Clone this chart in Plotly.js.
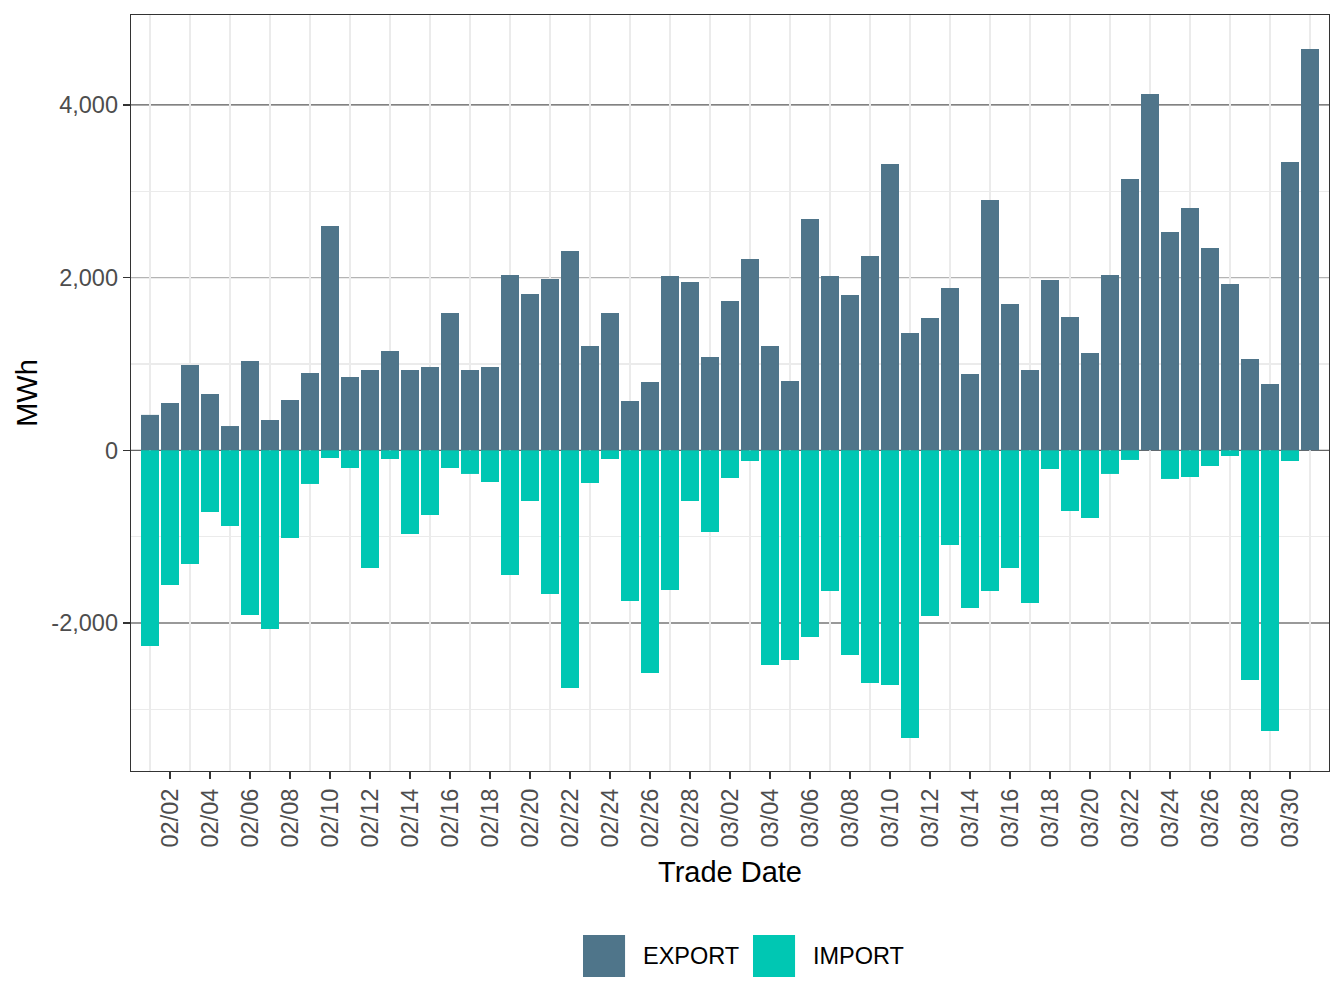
<!DOCTYPE html>
<html>
<head>
<meta charset="utf-8">
<script src="https://cdn.plot.ly/plotly-3.0.1.min.js"></script>
<style>
  html, body { margin: 0; padding: 0; background: #ffffff; }
  #chart { width: 1344px; height: 1008px; }
</style>
</head>
<body>
<div id="chart"></div>
<script>
// ---- data ----
const tradeDates = [
  '2023-02-01','2023-02-02','2023-02-03','2023-02-04','2023-02-05','2023-02-06','2023-02-07',
  '2023-02-08','2023-02-09','2023-02-10','2023-02-11','2023-02-12','2023-02-13','2023-02-14',
  '2023-02-15','2023-02-16','2023-02-17','2023-02-18','2023-02-19','2023-02-20','2023-02-21',
  '2023-02-22','2023-02-23','2023-02-24','2023-02-25','2023-02-26','2023-02-27','2023-02-28',
  '2023-03-01','2023-03-02','2023-03-03','2023-03-04','2023-03-05','2023-03-06','2023-03-07',
  '2023-03-08','2023-03-09','2023-03-10','2023-03-11','2023-03-12','2023-03-13','2023-03-14',
  '2023-03-15','2023-03-16','2023-03-17','2023-03-18','2023-03-19','2023-03-20','2023-03-21',
  '2023-03-22','2023-03-23','2023-03-24','2023-03-25','2023-03-26','2023-03-27','2023-03-28',
  '2023-03-29','2023-03-30','2023-03-31'
];

const exportMWh = [
  410, 548, 988, 652, 281, 1034, 351, 583, 895, 2598, 849, 930, 1150, 930,
  965, 1590, 930, 965, 2030, 1810, 1984, 2308, 1208, 1590, 571, 791, 2019, 1949,
  1080, 1729, 2215, 1208, 803, 2679, 2019, 1798, 2250, 3316, 1358, 1532, 1880, 884,
  2899, 1694, 930, 1972, 1544, 1127, 2030, 3142, 4126, 2528, 2806, 2343, 1926, 1057,
  768, 3339, 4647
];

const importMWh = [
  -2266, -1560, -1317, -715, -877, -1907, -2069, -1016, -390, -89, -205, -1363, -101, -969,
  -749, -205, -274, -367, -1444, -587, -1664, -2753, -379, -101, -1745, -2579, -1618, -587,
  -946, -321, -124, -2486, -2429, -2162, -1629, -2371, -2695, -2718, -3332, -1919, -1097, -1826,
  -1629, -1363, -1768, -217, -703, -784, -274, -112, 0, -332, -309, -182, -66, -2660,
  -3251, -124, 0
];

const seriesNames = ['EXPORT', 'IMPORT'];
const yTickVals = [-2000, 0, 2000, 4000];
const yTickText = ['-2,000', '0', '2,000', '4,000'];
const yMinorVals = [-3000, -1000, 1000, 3000];

// ---- styles ----
const colors = ['#4f758a', '#00c7b3'];
const refLineColors = ['#777777', '#666666', '#b4b4b4', '#595959'];
const FONT = 'Liberation Sans, Arial, Helvetica, sans-serif';
const DAY = 86400000;

const traces = [
  { type: 'bar', name: seriesNames[0], x: tradeDates, y: exportMWh,
    marker: { color: colors[0], line: { width: 0 } }, showlegend: false },
  { type: 'bar', name: seriesNames[1], x: tradeDates, y: importMWh,
    marker: { color: colors[1], line: { width: 0 } }, showlegend: false }
];

const shapes = yTickVals.map((v, i) => ({
  type: 'line', xref: 'paper', x0: 0, x1: 1, yref: 'y', y0: v, y1: v,
  layer: 'between', line: { color: refLineColors[i], width: 1.3 }
}));

// custom legend (keys + labels) at the bottom
const legendKeyX = [[0.3773, 0.4124], [0.5192, 0.5543]];
const legendTextX = [0.4257, 0.5676];
seriesNames.forEach((n, i) => {
  shapes.push({
    type: 'rect', xref: 'paper', yref: 'paper',
    x0: legendKeyX[i][0], x1: legendKeyX[i][1], y0: -0.2169, y1: -0.2725,
    fillcolor: colors[i], line: { width: 0 }
  });
});
const annotations = seriesNames.map((n, i) => ({
  text: n, xref: 'paper', yref: 'paper', x: legendTextX[i], y: -0.2447,
  xanchor: 'left', yanchor: 'middle', showarrow: false,
  font: { family: FONT, size: 23.5, color: '#000000' }
}));

const layout = {
  width: 1344, height: 1008,
  margin: { l: 131, r: 15, t: 15, b: 237, pad: 0 },
  paper_bgcolor: '#ffffff', plot_bgcolor: '#ffffff',
  barmode: 'relative', bargap: 0.1,
  showlegend: false,
  font: { family: FONT, color: '#4d4d4d' },
  xaxis: {
    type: 'date',
    range: ['2023-01-31 01:12', '2023-03-31 22:48'],
    tick0: '2023-02-02', dtick: 2 * DAY, tickformat: '%m/%d',
    tickangle: -90,
    tickfont: { family: FONT, size: 23.5, color: '#4d4d4d' },
    ticks: 'outside', ticklen: 7, tickwidth: 1.5, tickcolor: '#333333',
    showgrid: false,
    minor: { tick0: '2023-02-01', dtick: 2 * DAY, showgrid: true,
             gridcolor: '#ebebeb', gridwidth: 1.3, ticks: '' },
    showline: true, linecolor: '#333333', linewidth: 1.3, mirror: true,
    zeroline: false,
    title: { text: 'Trade Date', font: { family: FONT, size: 29, color: '#000000' }, standoff: 15 },
    automargin: false
  },
  yaxis: {
    range: [-3714, 5041],
    tickmode: 'array', tickvals: yTickVals, ticktext: yTickText,
    tickfont: { family: FONT, size: 23.5, color: '#4d4d4d' },
    ticks: 'outside', ticklen: 7, tickwidth: 1.5, tickcolor: '#333333',
    showgrid: false,
    minor: { tickmode: 'array', tickvals: yMinorVals, showgrid: true,
             gridcolor: '#ebebeb', gridwidth: 1.3, ticks: '' },
    showline: true, linecolor: '#333333', linewidth: 1.3, mirror: true,
    zeroline: false,
    title: { text: 'MWh', font: { family: FONT, size: 29, color: '#000000' }, standoff: 5 },
    automargin: false
  },
  shapes: shapes,
  annotations: annotations
};

Plotly.newPlot('chart', traces, layout, { displayModeBar: false, staticPlot: true });
</script>
</body>
</html>
